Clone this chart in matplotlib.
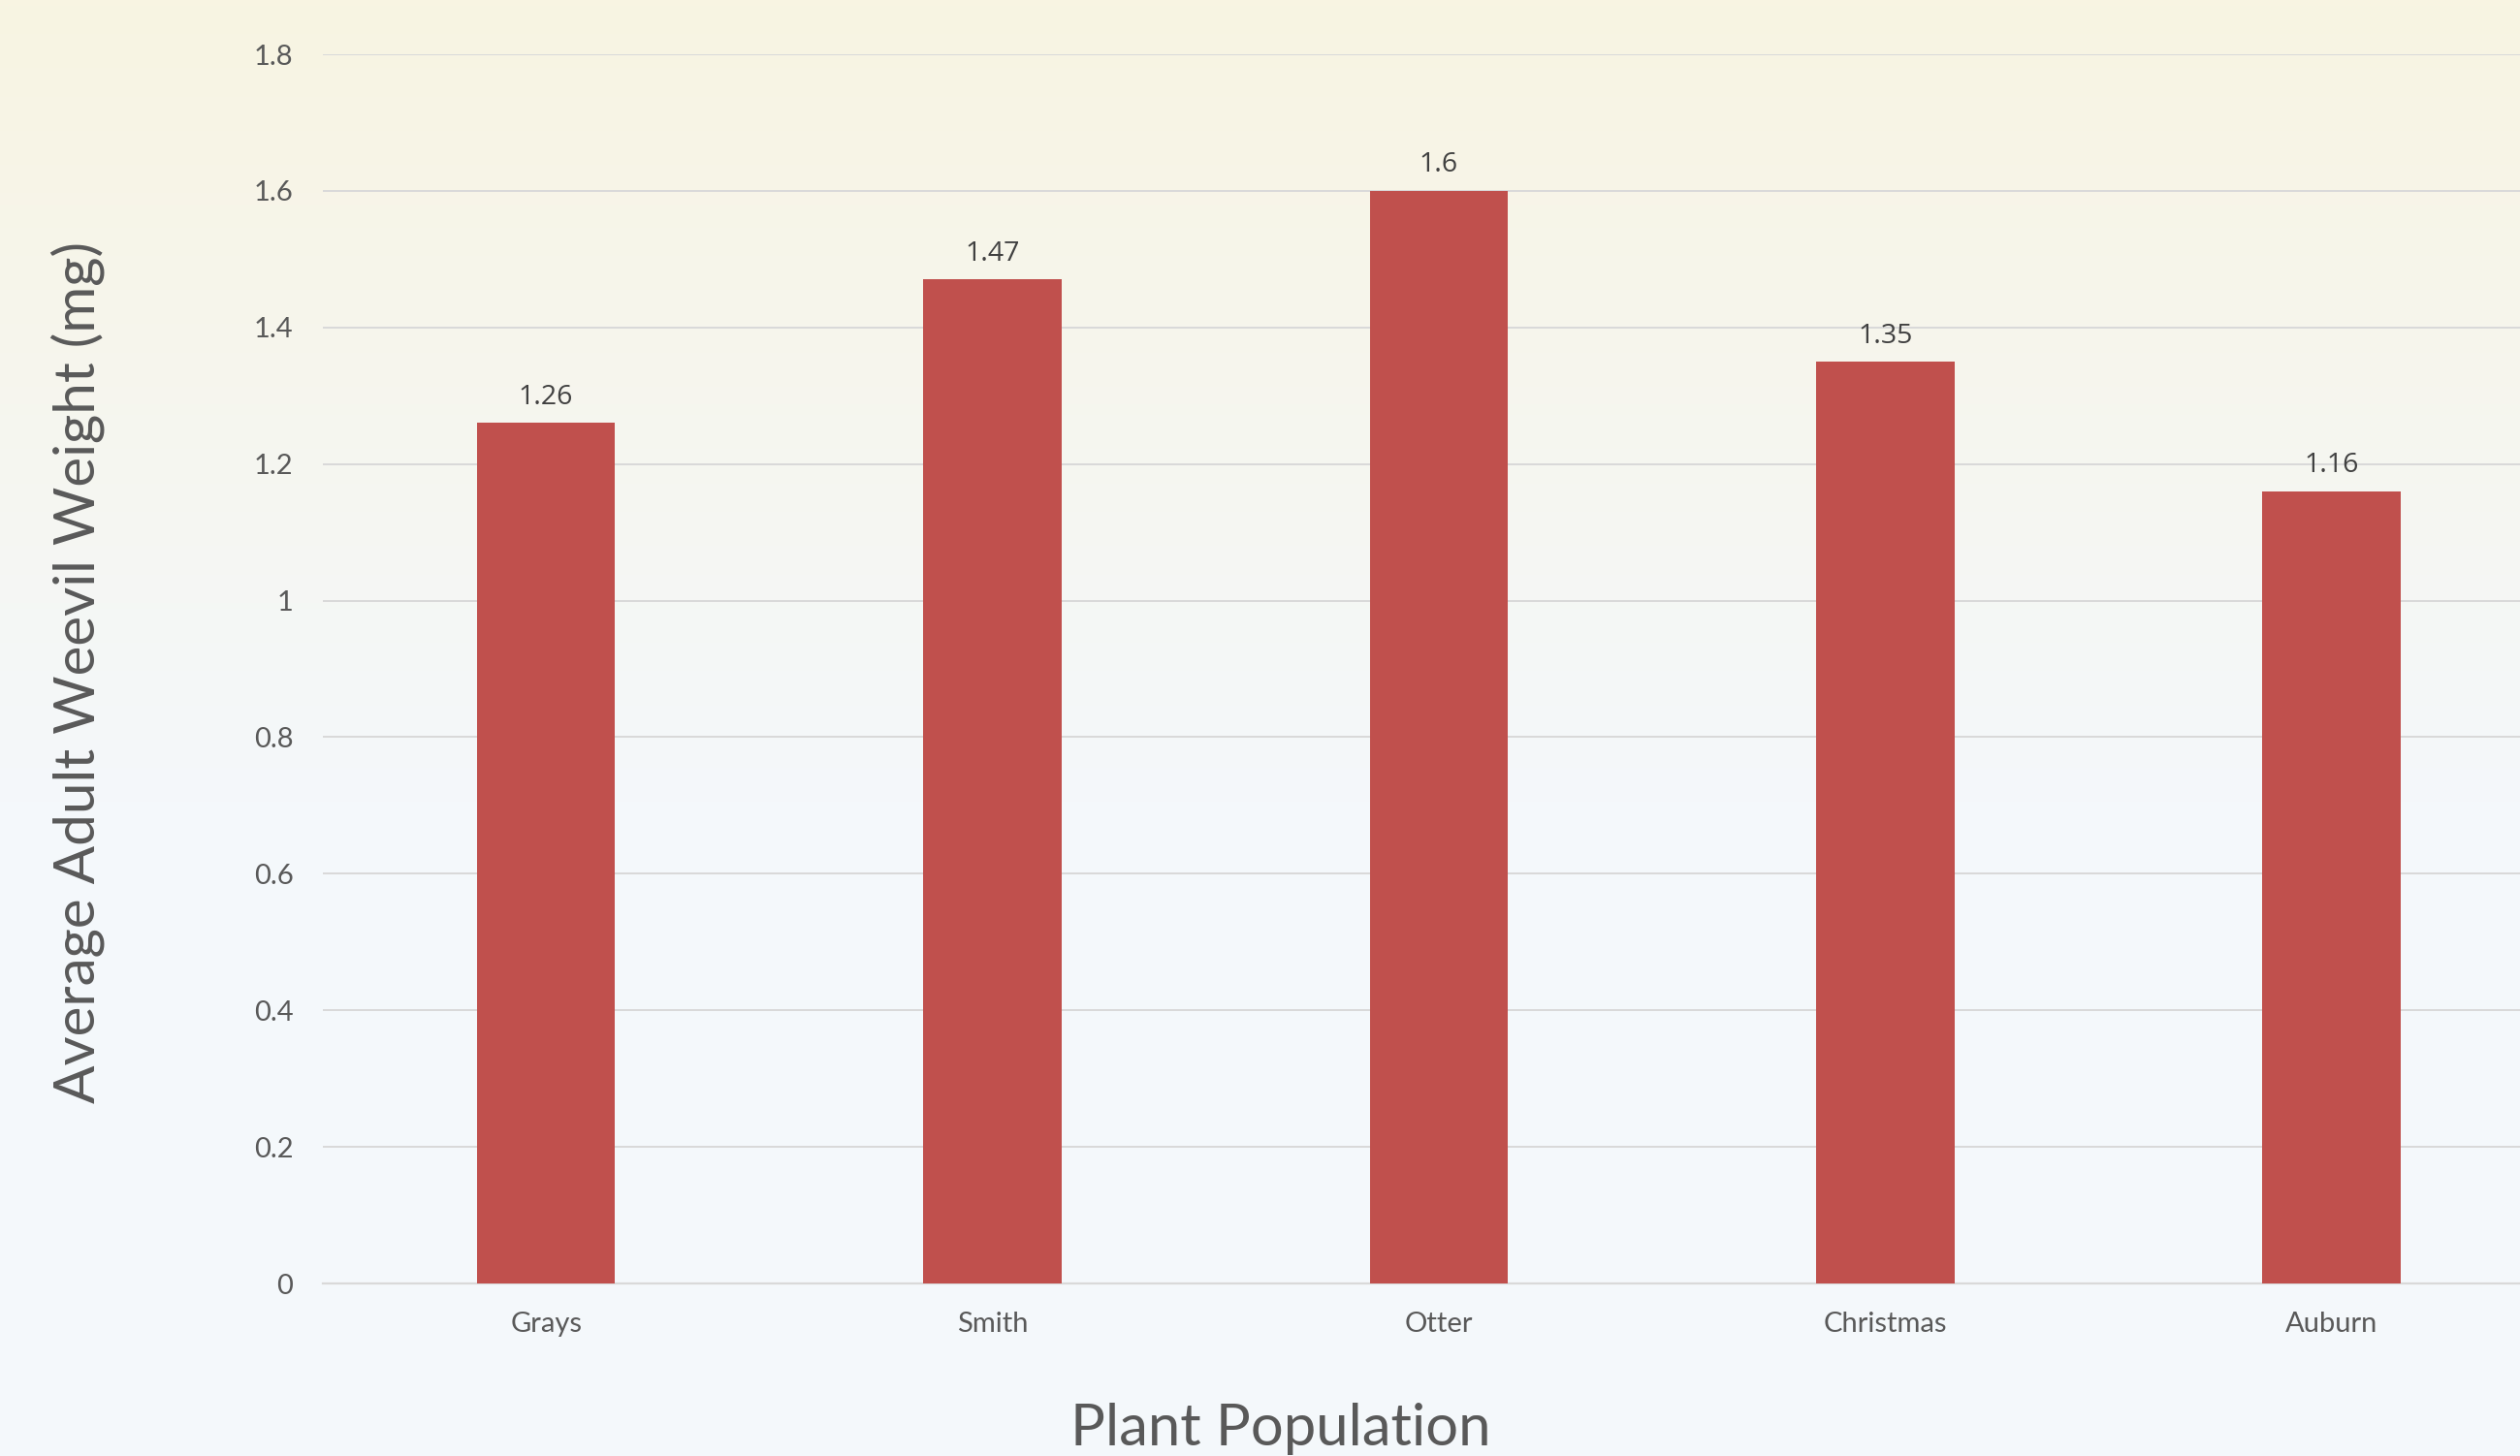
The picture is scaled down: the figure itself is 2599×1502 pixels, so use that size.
import numpy as np
import matplotlib.pyplot as plt
from matplotlib.colors import LinearSegmentedColormap

# data
populations = ['Grays', 'Smith', 'Otter', 'Christmas', 'Auburn']
weights = [1.26, 1.47, 1.6, 1.35, 1.16]
y_ticks = [0, 0.2, 0.4, 0.6, 0.8, 1.0, 1.2, 1.4, 1.6, 1.8]
y_tick_labels = ['0', '0.2', '0.4', '0.6', '0.8', '1', '1.2', '1.4', '1.6', '1.8']

bar_color = '#C0504D'
text_color = '#595959'

fig = plt.figure(figsize=(25.99, 15.02), dpi=100)

# background gradient (cream at top -> pale blue)
bg = fig.add_axes([0, 0, 1, 1], zorder=-10)
cmap = LinearSegmentedColormap.from_list(
    'bg', [(0.0, '#F8F4E2'), (0.55, '#F4F8FB'), (1.0, '#F4F8FB')])
grad = np.linspace(0, 1, 256).reshape(-1, 1)
bg.imshow(grad, aspect='auto', cmap=cmap, extent=[0, 1, 1, 0])
bg.axis('off')

ax = fig.add_axes([0.1281, 0.1185, 0.8857, 0.8442])
ax.set_facecolor('none')

x = np.arange(len(populations))
bars = ax.bar(x, weights, width=0.31, color=bar_color, zorder=3)

for xi, w in zip(x, weights):
    ax.annotate(f'{w:g}', (xi, w), xytext=(0, 14), textcoords='offset points',
                ha='center', va='baseline', fontsize=20.5, color='#404040',
                family='Open Sans')

ax.set_xlim(-0.5, 4.5)
ax.set_ylim(0, 1.8)
ax.set_yticks(y_ticks)
ax.set_yticklabels(y_tick_labels)
ax.set_xticks(x)
ax.set_xticklabels(populations)

for lbl in ax.get_xticklabels() + ax.get_yticklabels():
    lbl.set_family('Lato')
    lbl.set_fontsize(21)
    lbl.set_color(text_color)

ax.tick_params(axis='both', length=0)
ax.tick_params(axis='x', pad=21)
ax.tick_params(axis='y', pad=22)

ax.yaxis.grid(True, color='#D9D9D9', linewidth=1.4, zorder=0)
ax.set_axisbelow(True)
for s in ['top', 'right', 'left']:
    ax.spines[s].set_visible(False)
ax.spines['bottom'].set_color('#D9D9D9')
ax.spines['bottom'].set_linewidth(1.6)

fig.text(0.508, 0.0186, 'Plant Population', ha='center', va='center',
         fontsize=43, color=text_color, family='Lato')
fig.text(0.031, 0.538, 'Average Adult Weevil Weight (mg)', ha='center',
         va='center', rotation=90, fontsize=42, color=text_color, family='Lato')

fig.savefig('out.png', dpi=100)
